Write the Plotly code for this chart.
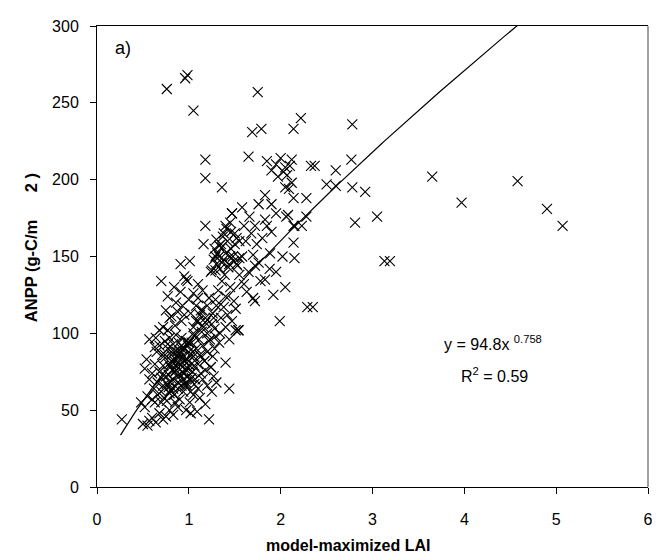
import numpy as np
import plotly.graph_objects as go

# ---- data (model-maximized LAI, ANPP g-C/m2) ----
lai_low = [0.27,0.50,0.55,0.57,0.60,0.64,0.68,0.72,0.75,0.79,0.83,0.88,0.97,1.02,1.09,1.22,1.18,1.12,1.05,0.48,
           0.55,0.52,0.60,0.63,0.66,0.70,0.73,0.76,0.80,0.84,0.90,0.94,0.98,1.01,1.06,1.10,1.15,1.20,1.25,1.27,
           1.30,0.54,0.52,0.57,0.60,0.63,0.66,0.68,0.70,0.72,0.74,0.76,0.78,0.80,0.82,0.84,0.85,0.87,0.88,0.90,
           0.91,0.93,0.94,0.95,0.96,0.98,0.99,1.00,1.01,1.03,1.04,1.05,1.07,1.08,1.10,1.12,1.13,1.15,1.17,1.18,
           1.20,1.22,1.24,1.26,1.28,0.65,0.68,0.71,0.74,0.77,0.79,0.81,0.83,0.86,0.89,0.92,0.97,1.00,1.06,1.11,
           0.57,0.63,0.88,0.92,0.78,0.70,0.62,0.85,1.40,1.44,1.24,1.13,0.81,0.86,0.95,1.02,0.99,0.91,
           0.72,0.75,0.78,0.81,0.83,0.86,0.89,0.92,0.94,0.97,1.00,1.03,1.06,0.74,0.77,0.80,0.82,0.87,0.90,0.93,
           0.96,0.99,1.02,0.79,0.84,0.88,0.92,0.95,1.01,1.04]
anpp_low = [44,41,40,43,45,42,48,44,46,50,47,52,50,48,49,44,54,58,60,55,
            59,52,57,55,60,62,58,56,63,60,57,62,66,55,67,64,70,66,62,72,
            68,83,77,70,74,80,68,75,71,79,84,67,73,78,70,82,75,88,68,80,
            73,85,70,90,77,83,72,88,79,94,75,85,70,90,80,86,74,92,82,76,
            88,95,78,85,90,88,92,86,95,90,97,86,93,99,94,97,95,94,98,96,
            96,91,64,66,65,55,64,55,81,64,78,85,82,79,82,85,77,88,
            66,72,80,88,64,76,84,90,74,68,82,71,79,86,93,68,76,72,86,78,
            66,92,62,61,88,81,92,74,70,88]

lai_mid = [0.64,0.68,0.72,0.77,0.79,0.81,0.85,0.88,0.92,0.95,1.00,1.02,1.05,1.08,1.10,1.13,1.15,1.18,0.86,0.91,
           0.77,0.70,0.97,0.95,0.985,1.15,1.22,0.84,0.75,1.00,1.05,1.10,0.93,1.25,1.20,1.28,
           1.05,1.08,1.12,1.16,1.20,1.23,1.27,1.10,1.14,1.18]
anpp_mid = [97,102,104,102,110,111,105,114,108,112,94,113,104,118,108,115,115,110,120,127,
            124,134,135,137,134,128,123,130,115,122,126,132,118,106,100,103,
            100,108,112,104,118,96,110,123,101,107]

lai_clu = [1.29,1.33,1.29,1.26,1.40,1.40,1.51,1.49,1.51,1.35,1.38,1.42,1.32,1.45,1.36,1.47,1.54,1.30,1.44,1.34,
           1.25,1.30,1.33,1.36,1.38,1.40,1.42,1.44,1.46,1.48,1.50,1.34,1.37,1.29,1.41,1.45,1.50,1.52,1.16,1.01,
           0.91,1.29,1.55,1.39,1.47,1.43,1.36,
           1.27,1.31,1.53,1.35,1.49,1.28,1.45,1.52,1.33,1.38,1.24,1.46,1.30,1.40,1.55]
anpp_clu = [98,94,122,113,124,104,102,121,116,110,117,112,128,130,134,108,102,118,96,100,
            141,145,150,156,148,152,160,145,155,150,158,142,163,150,168,172,165,145,158,147,
            145,141,138,138,178,143,146,
            148,152,144,158,147,155,150,162,157,165,140,166,161,170,149]

lai_up = [1.99,1.54,1.70,1.72,1.83,1.72,1.76,1.88,1.885,1.70,1.78,1.63,1.65,1.60,1.58,1.62,1.68,1.74,1.80,1.85,
          1.83,1.90,1.95,1.76,1.90,1.83,1.60,1.66,1.72,1.55,1.58,1.36,1.47,1.18,1.18,1.18,1.65,1.69,1.79,1.75,
          1.05,0.76,0.96,0.985,1.85,1.90,1.95,2.00,2.03,2.07,2.10,2.12,1.97,2.05,2.08,2.14,2.22,2.14,2.05,2.12,
          2.09,2.14,2.28,2.06,2.28,2.15,2.23,2.14,2.15,2.02,1.95,2.05,1.92]
anpp_up = [108,102,151,144,135,121,146,142,152,123,134,127,140,132,150,160,165,158,162,170,
           174,166,178,184,184,190,170,176,170,160,182,195,178,170,201,213,215,231,233,257,
           245,259,266,268,212,206,210,214,205,203,209,213,202,195,177,170,240,233,208,198,
           194,188,188,176,176,170,170,159,149,150,140,130,125]

lai_right = [2.78,2.77,3.65,4.58,3.97,4.90,5.07,3.05,2.81,3.13,3.19,2.29,2.35,2.92,2.78,2.60,2.50,2.60,2.33,2.37]
anpp_right = [236,213,202,199,185,181,170,176,172,147,147,117,117,192,195,196,197,206,209,209]

lai = lai_low + lai_mid + lai_clu + lai_up + lai_right
anpp = anpp_low + anpp_mid + anpp_clu + anpp_up + anpp_right

# power-law fit shown on the chart: y = 94.8 x^0.758
fit_a = 94.8
fit_b = 0.758
fit_x_min = 0.256
fit_x_max = 4.65
fit_x = np.linspace(fit_x_min, fit_x_max, 200)
fit_y = fit_a * fit_x ** fit_b

x_ticks = [0, 1, 2, 3, 4, 5, 6]
y_ticks = [0, 50, 100, 150, 200, 250, 300]

FONT = "Liberation Sans, Arial, sans-serif"

fig = go.Figure()
fig.add_trace(go.Scatter(
    x=lai, y=anpp, mode="markers",
    marker=dict(symbol="x-thin-open", size=10, color="black",
                line=dict(color="black", width=1.1)),
    showlegend=False, cliponaxis=False))
fig.add_trace(go.Scatter(
    x=fit_x, y=fit_y, mode="lines",
    line=dict(color="black", width=1.2), showlegend=False))

# page body adds an 8px offset, so the figure is 8px smaller on each side
fig.update_layout(
    width=652, height=551,
    margin=dict(l=89, r=7, t=18, b=72),
    paper_bgcolor="white", plot_bgcolor="white",
    font=dict(family=FONT, color="black", size=16),
    xaxis=dict(range=[0, 6], tickvals=x_ticks, ticktext=[str(v) for v in x_ticks],
               showgrid=False, zeroline=False, showline=True, linecolor="black",
               linewidth=1, mirror=True, ticks="outside", ticklen=6, tickcolor="black",
               tickfont=dict(size=16, family=FONT), ticklabelstandoff=12),
    yaxis=dict(range=[0, 300], tickvals=y_ticks, ticktext=[str(v) for v in y_ticks],
               showgrid=False, zeroline=False, showline=True, linecolor="black",
               linewidth=1, ticks="outside", ticklen=6, tickcolor="black",
               tickfont=dict(size=16, family=FONT), ticklabelstandoff=8),
    shapes=[dict(type="line", xref="paper", yref="paper", x0=1, x1=1, y0=0, y1=1,
                 line=dict(color="#808080", width=1.5))],
    annotations=[
        dict(text="a)", x=0.17, y=286, xref="x", yref="y", xanchor="left", yanchor="middle",
             showarrow=False, font=dict(size=18, family=FONT)),
        dict(text="y = 94.8x <sup>0.758</sup>", x=4.31, y=94, xref="x", yref="y",
             xanchor="center", yanchor="middle", showarrow=False, font=dict(size=16, family=FONT)),
        dict(text="R<sup>2</sup> = 0.59", x=4.33, y=73, xref="x", yref="y",
             xanchor="center", yanchor="middle", showarrow=False, font=dict(size=16, family=FONT)),
        dict(text="<b>ANPP (g-C/m\u00a0\u00a0\u00a0\u00a0\u00a0 2 )</b>", x=-0.12, y=0.52,
             xref="paper", yref="paper",
             textangle=-90, xanchor="center", yanchor="middle", showarrow=False,
             font=dict(size=16.5, family=FONT)),
        dict(text="<b>model-maximized LAI</b>", x=0.455, y=-0.126, xref="paper", yref="paper",
             xanchor="center", yanchor="middle", showarrow=False,
             font=dict(size=16, family=FONT)),
    ],
)

fig.write_html("out.html")
